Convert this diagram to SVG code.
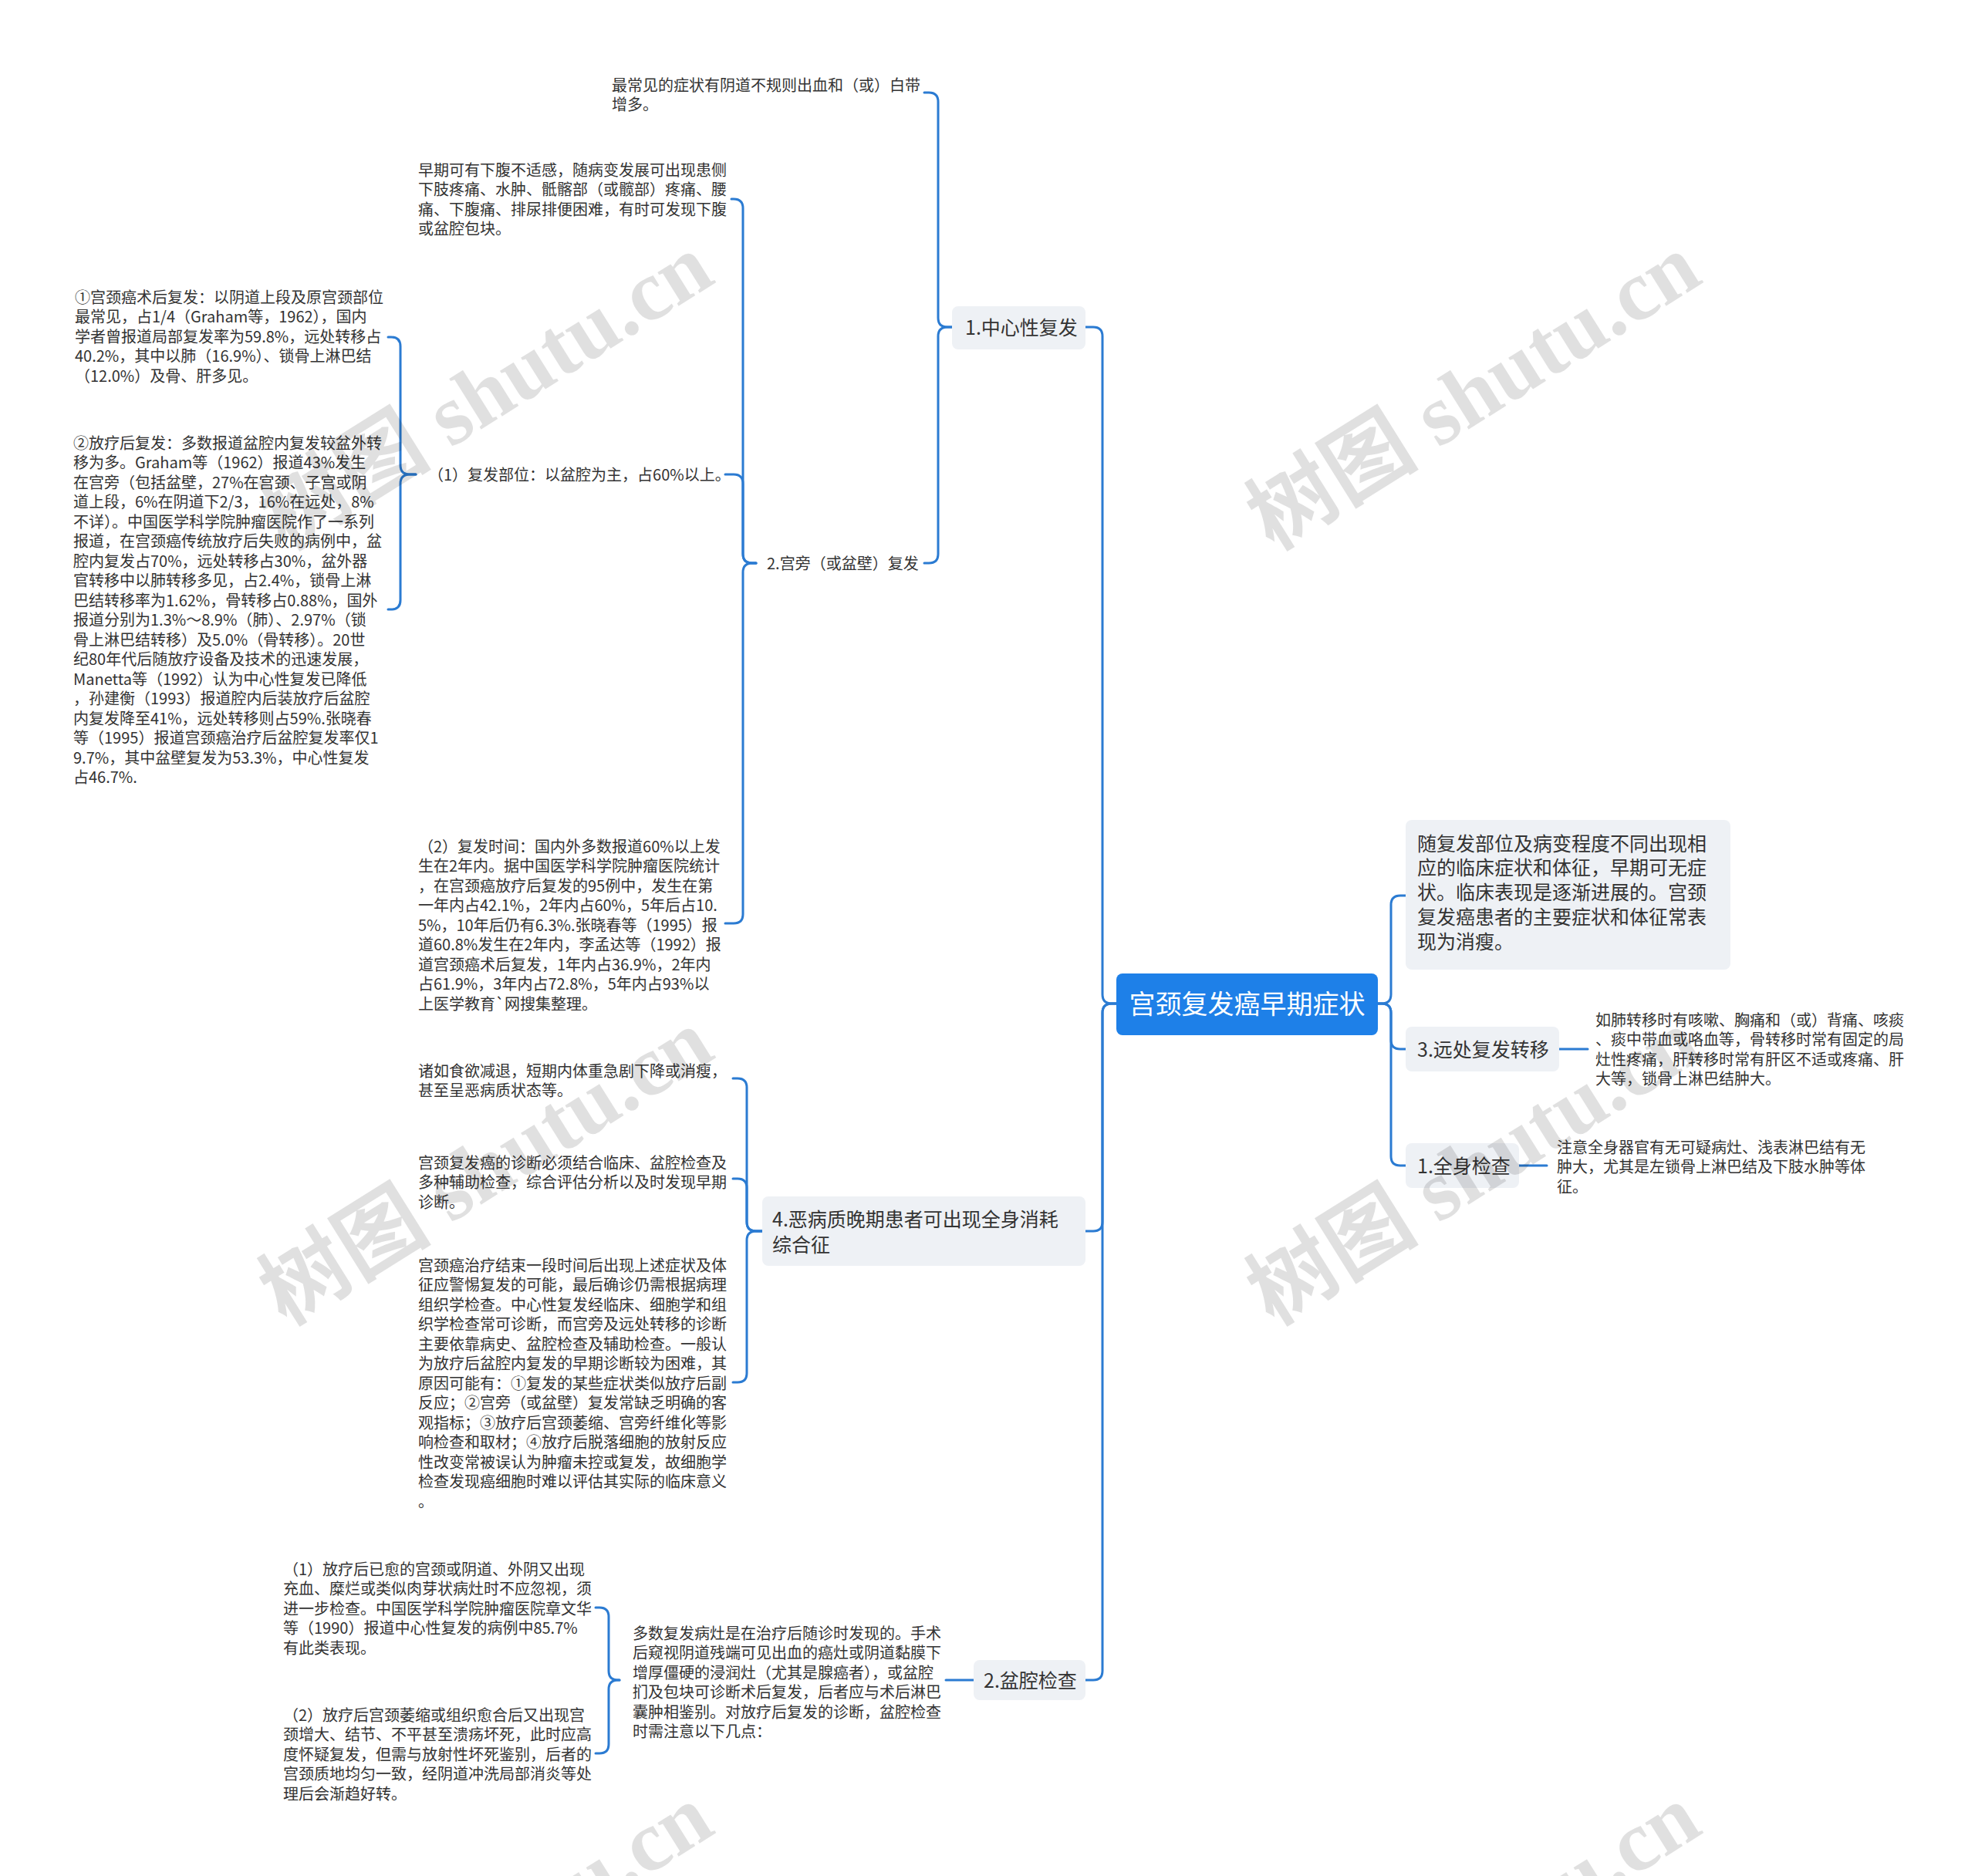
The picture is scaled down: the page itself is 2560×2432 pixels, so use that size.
<svg xmlns="http://www.w3.org/2000/svg" width="2560" height="2432" viewBox="0 0 2560 2432">
<style>
text{font-family:"Noto Sans CJK SC","Noto Sans",sans-serif;fill:#333}
.leaf{font-size:20px}
.mid{font-size:20px}
.node{font-size:25px}
.root{font-size:34px;fill:#fff}
.box{fill:#eef1f5}
.rootbox{fill:#1e80e8}
.link{fill:none;stroke:#2b7bd2;stroke-width:3;stroke-linecap:round;stroke-linejoin:round}
.wm{font-family:"Liberation Serif","Noto Sans CJK SC",serif;font-size:112px;font-weight:bold;fill:#000;fill-opacity:0.12}
</style>
<rect width="2560" height="2432" fill="#fff"/>
<g id="connectors">
<path class="link" d="M1447,1301 H1441 Q1429,1301 1429,1289 V436 Q1429,424 1417,424 H1407"/>
<path class="link" d="M1447,1301 H1441 Q1429,1301 1429,1313 V1584 Q1429,1596 1417,1596 H1407"/>
<path class="link" d="M1447,1301 H1441 Q1429,1301 1429,1313 V2166 Q1429,2178 1417,2178 H1407"/>
<path class="link" d="M1786,1301 H1791 Q1803,1301 1803,1289 V1173 Q1803,1161 1815,1161 H1822"/>
<path class="link" d="M1786,1301 H1791 Q1803,1301 1803,1313 V1348 Q1803,1360 1815,1360 H1822"/>
<path class="link" d="M1786,1301 H1791 Q1803,1301 1803,1313 V1499 Q1803,1511 1815,1511 H1822"/>
<path class="link" d="M2021,1360 H2058"/>
<path class="link" d="M1969,1511 H2005"/>
<path class="link" d="M1234,424 H1228 Q1216,424 1216,412 V132 Q1216,120 1204,120 H1198"/>
<path class="link" d="M1234,424 H1228 Q1216,424 1216,436 V718 Q1216,730 1204,730 H1198"/>
<path class="link" d="M980,730 H975 Q963,730 963,718 V270 Q963,258 951,258 H948"/>
<path class="link" d="M980,730 H975 Q963,730 963,718 V627 Q963,615 951,615 H940"/>
<path class="link" d="M980,730 H975 Q963,730 963,742 V1185 Q963,1197 951,1197 H940"/>
<path class="link" d="M539,615 H531 Q519,615 519,603 V449 Q519,437 507,437 H503"/>
<path class="link" d="M539,615 H531 Q519,615 519,627 V778 Q519,790 507,790 H503"/>
<path class="link" d="M988,1596 H980 Q968,1596 968,1584 V1410 Q968,1398 956,1398 H950"/>
<path class="link" d="M988,1596 H980 Q968,1596 968,1584 V1540 Q968,1528 956,1528 H950"/>
<path class="link" d="M988,1596 H980 Q968,1596 968,1608 V1780 Q968,1792 956,1792 H950"/>
<path class="link" d="M1262,2178 H1226"/>
<path class="link" d="M803,2178 H801 Q789,2178 789,2166 V2096 Q789,2084 777,2084 H772"/>
<path class="link" d="M803,2178 H801 Q789,2178 789,2190 V2261 Q789,2273 777,2273 H772"/>
</g>
<g id="root">
<rect class="rootbox" x="1447" y="1262" width="339" height="80" rx="8"/>
<text class="root" x="1616.5" y="1314" text-anchor="middle">宫颈复发癌早期症状</text>
</g>
<g id="n-summary">
<rect class="box" x="1822" y="1063" width="421" height="194" rx="8"/>
<text class="node" x="1837" y="1102.5"><tspan x="1837" dy="0">随复发部位及病变程度不同出现相</tspan><tspan x="1837" dy="31.75">应的临床症状和体征，早期可无症</tspan><tspan x="1837" dy="31.75">状。临床表现是逐渐进展的。宫颈</tspan><tspan x="1837" dy="31.75">复发癌患者的主要症状和体征常表</tspan><tspan x="1837" dy="31.75">现为消瘦。</tspan></text>
</g>
<g id="n-distant">
<rect class="box" x="1822" y="1331" width="199" height="58" rx="8"/>
<text class="node" x="1837" y="1369.5">3.远处复发转移</text>
</g>
<g id="n-distant-leaf">
<text class="leaf" x="2068" y="1329.5"><tspan x="2068" dy="0">如肺转移时有咳嗽、胸痛和（或）背痛、咳痰</tspan><tspan x="2068" dy="25.5">、痰中带血或咯血等，骨转移时常有固定的局</tspan><tspan x="2068" dy="25.5">灶性疼痛，肝转移时常有肝区不适或疼痛、肝</tspan><tspan x="2068" dy="25.5">大等，锁骨上淋巴结肿大。</tspan></text>
</g>
<g id="n-body">
<rect class="box" x="1822" y="1482" width="147" height="58" rx="8"/>
<text class="node" x="1837" y="1520.5">1.全身检查</text>
</g>
<g id="n-body-leaf">
<text class="leaf" x="2018" y="1494.5"><tspan x="2018" dy="0">注意全身器官有无可疑病灶、浅表淋巴结有无</tspan><tspan x="2018" dy="25.5">肿大，尤其是左锁骨上淋巴结及下肢水肿等体</tspan><tspan x="2018" dy="25.5">征。</tspan></text>
</g>
<g id="n-central">
<rect class="box" x="1234" y="397" width="173" height="56" rx="8"/>
<text class="node" x="1251" y="433.5">1.中心性复发</text>
</g>
<g id="n-central-leaf">
<text class="leaf" x="793" y="117.5"><tspan x="793" dy="0">最常见的症状有阴道不规则出血和（或）白带</tspan><tspan x="793" dy="25.5">增多。</tspan></text>
</g>
<g id="n-parametrial">
<text class="mid" x="994" y="737.5">2.宫旁（或盆壁）复发</text>
</g>
<g id="n-early">
<text class="leaf" x="542" y="227.5"><tspan x="542" dy="0">早期可有下腹不适感，随病变发展可出现患侧</tspan><tspan x="542" dy="25.5">下肢疼痛、水肿、骶髂部（或髋部）疼痛、腰</tspan><tspan x="542" dy="25.5">痛、下腹痛、排尿排便困难，有时可发现下腹</tspan><tspan x="542" dy="25.5">或盆腔包块。</tspan></text>
</g>
<g id="n-site">
<text class="mid" x="555" y="622.5">（1）复发部位：以盆腔为主，占60%以上。</text>
</g>
<g id="n-site-1">
<text class="leaf" x="97" y="392.5"><tspan x="97" dy="0">①宫颈癌术后复发：以阴道上段及原宫颈部位</tspan><tspan x="97" dy="25.5">最常见，占1/4（Graham等，1962），国内</tspan><tspan x="97" dy="25.5">学者曾报道局部复发率为59.8%，远处转移占</tspan><tspan x="97" dy="25.5">40.2%，其中以肺（16.9%）、锁骨上淋巴结</tspan><tspan x="97" dy="25.5">（12.0%）及骨、肝多见。</tspan></text>
</g>
<g id="n-site-2">
<text class="leaf" x="95" y="581.5"><tspan x="95" dy="0">②放疗后复发：多数报道盆腔内复发较盆外转</tspan><tspan x="95" dy="25.5">移为多。Graham等（1962）报道43%发生</tspan><tspan x="95" dy="25.5">在宫旁（包括盆壁，27%在宫颈、子宫或阴</tspan><tspan x="95" dy="25.5">道上段，6%在阴道下2/3，16%在远处，8%</tspan><tspan x="95" dy="25.5">不详）。中国医学科学院肿瘤医院作了一系列</tspan><tspan x="95" dy="25.5">报道，在宫颈癌传统放疗后失败的病例中，盆</tspan><tspan x="95" dy="25.5">腔内复发占70%，远处转移占30%，盆外器</tspan><tspan x="95" dy="25.5">官转移中以肺转移多见，占2.4%，锁骨上淋</tspan><tspan x="95" dy="25.5">巴结转移率为1.62%，骨转移占0.88%，国外</tspan><tspan x="95" dy="25.5">报道分别为1.3%～8.9%（肺）、2.97%（锁</tspan><tspan x="95" dy="25.5">骨上淋巴结转移）及5.0%（骨转移）。20世</tspan><tspan x="95" dy="25.5">纪80年代后随放疗设备及技术的迅速发展，</tspan><tspan x="95" dy="25.5">Manetta等（1992）认为中心性复发已降低</tspan><tspan x="95" dy="25.5">，孙建衡（1993）报道腔内后装放疗后盆腔</tspan><tspan x="95" dy="25.5">内复发降至41%，远处转移则占59%.张晓春</tspan><tspan x="95" dy="25.5">等（1995）报道宫颈癌治疗后盆腔复发率仅1</tspan><tspan x="95" dy="25.5">9.7%，其中盆壁复发为53.3%，中心性复发</tspan><tspan x="95" dy="25.5">占46.7%.</tspan></text>
</g>
<g id="n-time">
<text class="leaf" x="542" y="1104.5"><tspan x="542" dy="0">（2）复发时间：国内外多数报道60%以上发</tspan><tspan x="542" dy="25.5">生在2年内。据中国医学科学院肿瘤医院统计</tspan><tspan x="542" dy="25.5">，在宫颈癌放疗后复发的95例中，发生在第</tspan><tspan x="542" dy="25.5">一年内占42.1%，2年内占60%，5年后占10.</tspan><tspan x="542" dy="25.5">5%，10年后仍有6.3%.张晓春等（1995）报</tspan><tspan x="542" dy="25.5">道60.8%发生在2年内，李孟达等（1992）报</tspan><tspan x="542" dy="25.5">道宫颈癌术后复发，1年内占36.9%，2年内</tspan><tspan x="542" dy="25.5">占61.9%，3年内占72.8%，5年内占93%以</tspan><tspan x="542" dy="25.5">上医学教育`网搜集整理。</tspan></text>
</g>
<g id="n-cachexia">
<rect class="box" x="988" y="1551" width="419" height="90" rx="8"/>
<text class="node" x="1001" y="1589.5"><tspan x="1001" dy="0">4.恶病质晚期患者可出现全身消耗</tspan><tspan x="1001" dy="33">综合征</tspan></text>
</g>
<g id="n-cachexia-1">
<text class="leaf" x="542" y="1395.5"><tspan x="542" dy="0">诸如食欲减退，短期内体重急剧下降或消瘦，</tspan><tspan x="542" dy="25.5">甚至呈恶病质状态等。</tspan></text>
</g>
<g id="n-cachexia-2">
<text class="leaf" x="542" y="1514.5"><tspan x="542" dy="0">宫颈复发癌的诊断必须结合临床、盆腔检查及</tspan><tspan x="542" dy="25.5">多种辅助检查，综合评估分析以及时发现早期</tspan><tspan x="542" dy="25.5">诊断。</tspan></text>
</g>
<g id="n-cachexia-3">
<text class="leaf" x="542" y="1647.5"><tspan x="542" dy="0">宫颈癌治疗结束一段时间后出现上述症状及体</tspan><tspan x="542" dy="25.5">征应警惕复发的可能，最后确诊仍需根据病理</tspan><tspan x="542" dy="25.5">组织学检查。中心性复发经临床、细胞学和组</tspan><tspan x="542" dy="25.5">织学检查常可诊断，而宫旁及远处转移的诊断</tspan><tspan x="542" dy="25.5">主要依靠病史、盆腔检查及辅助检查。一般认</tspan><tspan x="542" dy="25.5">为放疗后盆腔内复发的早期诊断较为困难，其</tspan><tspan x="542" dy="25.5">原因可能有：①复发的某些症状类似放疗后副</tspan><tspan x="542" dy="25.5">反应；②宫旁（或盆壁）复发常缺乏明确的客</tspan><tspan x="542" dy="25.5">观指标；③放疗后宫颈萎缩、宫旁纤维化等影</tspan><tspan x="542" dy="25.5">响检查和取材；④放疗后脱落细胞的放射反应</tspan><tspan x="542" dy="25.5">性改变常被误认为肿瘤未控或复发，故细胞学</tspan><tspan x="542" dy="25.5">检查发现癌细胞时难以评估其实际的临床意义</tspan><tspan x="542" dy="25.5">。</tspan></text>
</g>
<g id="n-pelvic">
<rect class="box" x="1262" y="2152" width="145" height="52" rx="8"/>
<text class="node" x="1275" y="2187.5">2.盆腔检查</text>
</g>
<g id="n-pelvic-leaf">
<text class="leaf" x="820" y="2124.5"><tspan x="820" dy="0">多数复发病灶是在治疗后随诊时发现的。手术</tspan><tspan x="820" dy="25.5">后窥视阴道残端可见出血的癌灶或阴道黏膜下</tspan><tspan x="820" dy="25.5">增厚僵硬的浸润灶（尤其是腺癌者），或盆腔</tspan><tspan x="820" dy="25.5">扪及包块可诊断术后复发，后者应与术后淋巴</tspan><tspan x="820" dy="25.5">囊肿相鉴别。对放疗后复发的诊断，盆腔检查</tspan><tspan x="820" dy="25.5">时需注意以下几点：</tspan></text>
</g>
<g id="n-pelvic-1">
<text class="leaf" x="367" y="2041.5"><tspan x="367" dy="0">（1）放疗后已愈的宫颈或阴道、外阴又出现</tspan><tspan x="367" dy="25.5">充血、糜烂或类似肉芽状病灶时不应忽视，须</tspan><tspan x="367" dy="25.5">进一步检查。中国医学科学院肿瘤医院章文华</tspan><tspan x="367" dy="25.5">等（1990）报道中心性复发的病例中85.7%</tspan><tspan x="367" dy="25.5">有此类表现。</tspan></text>
</g>
<g id="n-pelvic-2">
<text class="leaf" x="367" y="2230.5"><tspan x="367" dy="0">（2）放疗后宫颈萎缩或组织愈合后又出现宫</tspan><tspan x="367" dy="25.5">颈增大、结节、不平甚至溃疡坏死，此时应高</tspan><tspan x="367" dy="25.5">度怀疑复发，但需与放射性坏死鉴别，后者的</tspan><tspan x="367" dy="25.5">宫颈质地均匀一致，经阴道冲洗局部消炎等处</tspan><tspan x="367" dy="25.5">理后会渐趋好转。</tspan></text>
</g>
<g id="watermark">
<text class="wm" x="0" y="0" text-anchor="middle" transform="translate(650,540) rotate(-32)">树图 shutu.cn</text>
<text class="wm" x="0" y="0" text-anchor="middle" transform="translate(1930,540) rotate(-32)">树图 shutu.cn</text>
<text class="wm" x="0" y="0" text-anchor="middle" transform="translate(650,1545) rotate(-32)">树图 shutu.cn</text>
<text class="wm" x="0" y="0" text-anchor="middle" transform="translate(1930,1545) rotate(-32)">树图 shutu.cn</text>
<text class="wm" x="0" y="0" text-anchor="middle" transform="translate(650,2550) rotate(-32)">树图 shutu.cn</text>
<text class="wm" x="0" y="0" text-anchor="middle" transform="translate(1930,2550) rotate(-32)">树图 shutu.cn</text>
</g>
</svg>
